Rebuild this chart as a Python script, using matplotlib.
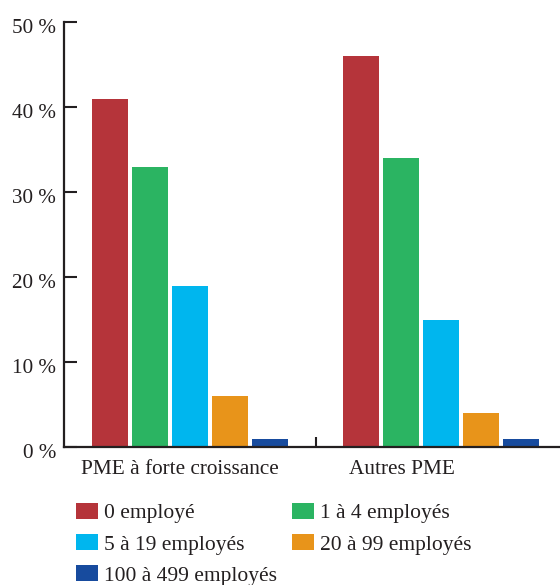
import matplotlib.pyplot as plt
from matplotlib.patches import Patch
from matplotlib.ticker import FixedLocator
from matplotlib.transforms import ScaledTranslation

plt.rcParams['font.family'] = ['Liberation Serif', 'DejaVu Serif']

groups = ['PME à forte croissance', 'Autres PME']
sizes = ['0 employé', '1 à 4 employés', '5 à 19 employés',
         '20 à 99 employés', '100 à 499 employés']
values = {
    '0 employé': [41, 46],
    '1 à 4 employés': [33, 34],
    '5 à 19 employés': [19, 15],
    '20 à 99 employés': [6, 4],
    '100 à 499 employés': [1, 1],
}
colors = ['#b5343a', '#2bb462', '#00b6ee', '#e8941a', '#174b9e']
yticks = [0, 10, 20, 30, 40, 50]

fig = plt.figure(figsize=(5.6, 5.85), dpi=100)
ax = fig.add_axes([64 / 560, 138 / 585, 496 / 560, 425 / 585])

step = 0.1594
width = 0.1434
for i, (name, col) in enumerate(zip(sizes, colors)):
    xs = [g + (i - 2) * step for g in range(len(groups))]
    ax.bar(xs, values[name], width=width, color=col, edgecolor='none')

ax.set_xlim(-0.502, 1.474)
ax.set_ylim(0, 50)

ink = '#231f20'
for s in ['top', 'right']:
    ax.spines[s].set_visible(False)
for s in ['left', 'bottom']:
    ax.spines[s].set_linewidth(1.6)
    ax.spines[s].set_color(ink)

ax.set_yticks(yticks)
ax.set_yticklabels([f'{v} %' for v in yticks])
ax.tick_params(axis='y', direction='in', length=9, width=1.5, color=ink,
               pad=5.5, labelsize=15.2, labelcolor=ink)
# the percent labels sit a touch below their ticks
shift = ScaledTranslation(0, -4 / 100, fig.dpi_scale_trans)
for lab in ax.get_yticklabels():
    lab.set_transform(lab.get_transform() + shift)

# labels sit off the group centres in the original
ax.set_xticks([-0.04, 0.845])
ax.set_xticklabels(groups)
ax.tick_params(axis='x', which='major', length=0, pad=9.5, labelsize=15.3,
               labelcolor=ink)
ax.xaxis.set_minor_locator(FixedLocator([0.5]))
ax.tick_params(axis='x', which='minor', direction='in', length=7.5,
               width=1.5, color=ink)

order = [0, 2, 4, 1, 3]
handles = [Patch(facecolor=colors[k], edgecolor='none') for k in order]
labels = [sizes[k] for k in order]
fig.legend(handles, labels, ncol=2, loc='upper left',
           bbox_to_anchor=(76 / 560, 1 - 503 / 585), frameon=False,
           fontsize=15.5, handlelength=1.02, handleheight=0.75,
           handletextpad=0.28, labelspacing=0.5, columnspacing=0.68,
           borderaxespad=0, borderpad=0, labelcolor=ink)

fig.savefig('out.png', dpi=100)
